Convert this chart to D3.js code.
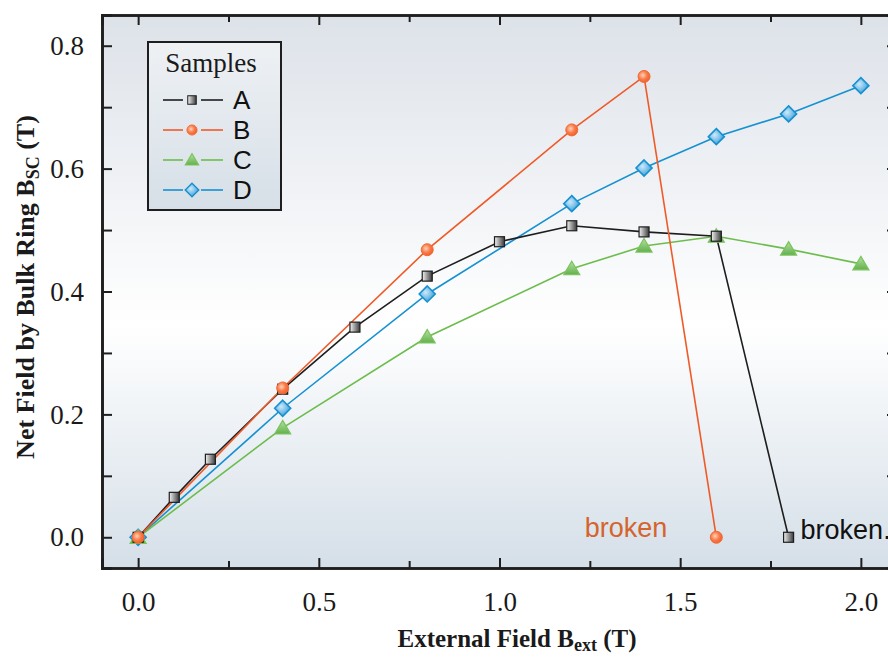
<!DOCTYPE html>
<html>
<head>
<meta charset="utf-8">
<script src="https://cdn.jsdelivr.net/npm/d3@7"></script>
<style>
  body { margin: 0; background: #fff; }
  svg { display: block; }
</style>
</head>
<body>
<div id="chart"></div>
<script>
// data
const xA = [0, 0.1, 0.2, 0.4, 0.6, 0.8, 1.0, 1.2, 1.4, 1.6, 1.8];
const yA = [0, 0.065, 0.127, 0.241, 0.342, 0.425, 0.481, 0.507, 0.497, 0.490, 0];
const xB = [0, 0.4, 0.8, 1.2, 1.4, 1.6];
const yB = [0, 0.243, 0.468, 0.663, 0.750, 0];
const xC = [0, 0.4, 0.8, 1.2, 1.4, 1.6, 1.8, 2.0];
const yC = [0, 0.178, 0.326, 0.437, 0.474, 0.490, 0.469, 0.445];
const xD = [0, 0.4, 0.8, 1.2, 1.4, 1.6, 1.8, 2.0];
const yD = [0, 0.210, 0.396, 0.543, 0.601, 0.652, 0.689, 0.735];

const seriesNames = ['A', 'B', 'C', 'D'];
const xTicks = [0, 0.5, 1.0, 1.5, 2.0];
const yTicks = [0, 0.2, 0.4, 0.6, 0.8];

const W = 888, H = 657;
const m = {t: 15, l: 102, r: -9, b: 89};

const svg = d3.select('#chart').append('svg')
  .attr('width', W).attr('height', H);

const x = d3.scaleLinear().domain([-0.1, 2.1]).range([m.l, W - m.r]);
const y = d3.scaleLinear().domain([-0.05, 0.85]).range([H - m.b, m.t]);

const defs = svg.append('defs');

function linGrad(id, stops, vertical){
  const g = defs.append('linearGradient').attr('id', id)
    .attr('x1', 0).attr('y1', 0)
    .attr('x2', vertical ? 0 : 1).attr('y2', vertical ? 1 : 0);
  stops.forEach(s => g.append('stop').attr('offset', s[0]).attr('stop-color', s[1]));
}
function radGrad(id, stops){
  const g = defs.append('radialGradient').attr('id', id)
    .attr('cx', 0.4).attr('cy', 0.4).attr('r', 0.7);
  stops.forEach(s => g.append('stop').attr('offset', s[0]).attr('stop-color', s[1]));
}

linGrad('bg', [[0, '#dde2e9'], [0.56, '#ffffff'], [1, '#d5dfe8']], true);
linGrad('legbg', [[0, '#eef1f4'], [1, '#d6dfe7']], true);
linGrad('gA', [[0, '#f4f4f4'], [1, '#3a3a3a']], false);
radGrad('gB', [[0, '#ffd2b8'], [0.5, '#f97a48'], [1, '#ec5a24']]);
linGrad('gC', [[0, '#b6e0a4'], [1, '#62b04a']], true);
radGrad('gD', [[0, '#cde9fa'], [0.6, '#6bb7e4'], [1, '#2f94d0']]);

// plot background
svg.append('rect')
  .attr('x', x(-0.1)).attr('y', y(0.85))
  .attr('width', x(2.1) - x(-0.1)).attr('height', y(-0.05) - y(0.85))
  .attr('fill', 'url(#bg)');

// series config
const series = [
  {name: 'A', xs: xA, ys: yA, color: '#1e1e1e', shape: 'square', fill: 'url(#gA)', stroke: '#1e1e1e'},
  {name: 'B', xs: xB, ys: yB, color: '#f05a28', shape: 'circle', fill: 'url(#gB)', stroke: '#f26a34'},
  {name: 'C', xs: xC, ys: yC, color: '#6cbd4c', shape: 'triangle', fill: 'url(#gC)', stroke: '#79c35c'},
  {name: 'D', xs: xD, ys: yD, color: '#1591d2', shape: 'diamond', fill: 'url(#gD)', stroke: '#1590d0'}
];

function drawMarker(g, s){
  if(s.shape === 'square'){
    g.append('rect').attr('x', -5).attr('y', -5).attr('width', 10).attr('height', 10)
      .attr('fill', s.fill).attr('stroke', s.stroke).attr('stroke-width', 1.2);
  } else if(s.shape === 'circle'){
    g.append('circle').attr('r', 6)
      .attr('fill', s.fill).attr('stroke', s.stroke).attr('stroke-width', 1);
  } else if(s.shape === 'triangle'){
    g.append('path').attr('d', 'M0,-7.5L8,6L-8,6Z')
      .attr('fill', s.fill).attr('stroke', s.stroke).attr('stroke-width', 1.2);
  } else {
    g.append('path').attr('d', 'M0,-8L8,0L0,8L-8,0Z')
      .attr('fill', s.fill).attr('stroke', s.stroke).attr('stroke-width', 1.6);
  }
}

const line = d3.line().x(d => x(d[0])).y(d => y(d[1]));

// lines drawn in order D, C, A, B roughly as in reference
const drawOrder = ['D', 'C', 'A', 'B'];
drawOrder.forEach(n => {
  const s = series.find(d => d.name === n);
  const pts = s.xs.map((v, i) => [v, s.ys[i]]);
  svg.append('path').datum(pts)
    .attr('d', line)
    .attr('fill', 'none')
    .attr('stroke', s.color)
    .attr('stroke-width', 1.6);
});
drawOrder.forEach(n => {
  const s = series.find(d => d.name === n);
  const pts = s.xs.map((v, i) => [v, s.ys[i]]);
  svg.selectAll(null).data(pts).enter().append('g')
    .attr('transform', d => `translate(${x(d[0])},${y(d[1])})`)
    .each(function(){ drawMarker(d3.select(this), s); });
});

// "broken" notes
svg.append('text')
  .attr('x', x(1.35)).attr('y', y(0))
  .attr('text-anchor', 'middle')
  .attr('font-family', 'Liberation Sans, Arial, sans-serif')
  .attr('font-size', 27)
  .attr('fill', '#d5632c')
  .text('broken');
svg.append('text')
  .attr('x', x(1.8) + 12).attr('y', y(0) + 2)
  .attr('font-family', 'Liberation Sans, Arial, sans-serif')
  .attr('font-size', 27)
  .attr('fill', '#111')
  .text('broken.');

// axes: ticks inward on all four sides
const frame = '#1e1e1e';
const xMinor = [0.25, 0.75, 1.25, 1.75];
const yMinor = [0.1, 0.3, 0.5, 0.7];

const axBottom = svg.append('g').attr('transform', `translate(0,${y(-0.05)})`)
  .call(d3.axisBottom(x).tickValues(xTicks).tickSize(-10).tickPadding(24).tickFormat(d3.format('.1f')));
const axBottomMinor = svg.append('g').attr('transform', `translate(0,${y(-0.05)})`)
  .call(d3.axisBottom(x).tickValues(xMinor).tickSize(-7).tickFormat(''));
const axTop = svg.append('g').attr('transform', `translate(0,${y(0.85)})`)
  .call(d3.axisTop(x).tickValues(xTicks).tickSize(-10).tickFormat(''));
const axTopMinor = svg.append('g').attr('transform', `translate(0,${y(0.85)})`)
  .call(d3.axisTop(x).tickValues(xMinor).tickSize(-7).tickFormat(''));
const axLeft = svg.append('g').attr('transform', `translate(${x(-0.1)},0)`)
  .call(d3.axisLeft(y).tickValues(yTicks).tickSize(-10).tickPadding(18).tickFormat(d3.format('.1f')));
const axLeftMinor = svg.append('g').attr('transform', `translate(${x(-0.1)},0)`)
  .call(d3.axisLeft(y).tickValues(yMinor).tickSize(-10).tickFormat(''));
const axRight = svg.append('g').attr('transform', `translate(${x(2.1)},0)`)
  .call(d3.axisRight(y).tickValues(yTicks.concat(yMinor)).tickSize(-10).tickFormat(''));

[axBottom, axBottomMinor, axTop, axTopMinor, axLeft, axLeftMinor, axRight].forEach(a => {
  a.select('.domain').attr('stroke', frame).attr('stroke-width', 2.6);
  a.selectAll('.tick line').attr('stroke', frame).attr('stroke-width', 2);
  a.selectAll('.tick text')
    .attr('font-family', 'Liberation Serif, Times New Roman, serif')
    .attr('font-size', 27)
    .attr('fill', '#1a1a1a');
});

// axis titles
const titleFont = 'Liberation Serif, Times New Roman, serif';
const xt = svg.append('text')
  .attr('x', 517).attr('y', 647)
  .attr('text-anchor', 'middle')
  .attr('font-family', titleFont).attr('font-weight', 'bold').attr('font-size', 25)
  .attr('fill', '#1a1a1a');
xt.append('tspan').text('External Field B');
xt.append('tspan').attr('font-size', 18).attr('dy', 4).text('ext');
xt.append('tspan').attr('dy', -4).text('\u00a0(T)');

const yt = svg.append('text')
  .attr('transform', `translate(34,${287}) rotate(-90)`)
  .attr('text-anchor', 'middle')
  .attr('font-family', titleFont).attr('font-weight', 'bold').attr('font-size', 26)
  .attr('fill', '#1a1a1a');
yt.append('tspan').text('Net Field by Bulk Ring B');
yt.append('tspan').attr('font-size', 18).attr('dy', 5).text('SC');
yt.append('tspan').attr('dy', -5).text('\u00a0(T)');

// legend
const leg = svg.append('g').attr('transform', 'translate(148,42)');
leg.append('rect').attr('width', 133).attr('height', 168)
  .attr('fill', 'url(#legbg)').attr('stroke', frame).attr('stroke-width', 2);
leg.append('text').attr('x', 63).attr('y', 30).attr('text-anchor', 'middle')
  .attr('font-family', titleFont).attr('font-size', 27).attr('fill', '#1a1a1a')
  .text('Samples');
seriesNames.forEach((n, i) => {
  const s = series.find(d => d.name === n);
  const cy = 58 + i * 30;
  const row = leg.append('g').attr('transform', `translate(0,${cy})`);
  row.append('line').attr('x1', 15).attr('x2', 35).attr('stroke', s.color).attr('stroke-width', 1.6);
  row.append('line').attr('x1', 53).attr('x2', 75).attr('stroke', s.color).attr('stroke-width', 1.6);
  const mk = row.append('g').attr('transform', 'translate(44,0) scale(0.85)');
  drawMarker(mk, s);
  row.append('text').attr('x', 85).attr('y', 9)
    .attr('font-family', 'Liberation Sans, Arial, sans-serif')
    .attr('font-size', 26).attr('fill', '#111')
    .text(n);
});
</script>
</body>
</html>
